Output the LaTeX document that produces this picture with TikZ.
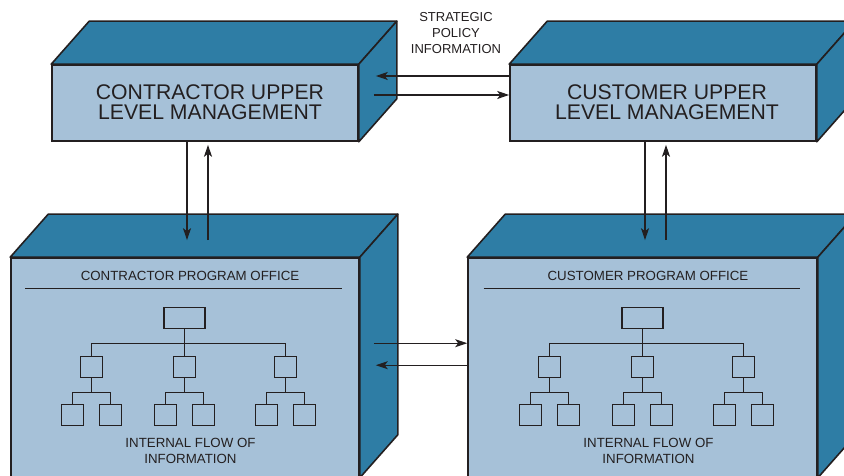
\documentclass[tikz,border=0pt]{standalone}
\usepackage{fontspec}
\setmainfont{Liberation Sans}
\usetikzlibrary{arrows.meta,calc}
\definecolor{facefront}{HTML}{A6C1D8}
\definecolor{faceside}{HTML}{2E7DA5}
\definecolor{inkline}{HTML}{231F20}

\tikzset{
  front/.style={draw=inkline, line width=1.6pt, fill=facefront, inner sep=0pt},
  sideface/.style={draw=inkline, line width=1.6pt, fill=faceside, line join=round},
  flow/.style={draw=inkline, line width=1.1pt, -{Stealth[length=12pt,width=8pt,inset=3pt]}},
  unit/.style={draw=inkline, line width=1.1pt, minimum width=22pt, minimum height=21pt, inner sep=0pt},
  tie/.style={draw=inkline, line width=1.1pt},
  bigtext/.style={text=inkline, font=\fontsize{21.2}{20.5}\selectfont, align=center},
  smalltext/.style={text=inkline, font=\fontsize{13.3}{16}\selectfont, align=center},
}

% top and right faces of a box, from its front node
\newcommand{\boxfaces}[1]{%
  \draw[sideface] (#1.north west) -- ++(38,43) -- ($(#1.north east)+(38,43)$)
    -- (#1.north east) -- cycle;
  \draw[sideface] (#1.north east) -- ++(38,43) -- ($(#1.south east)+(38,43)$)
    -- (#1.south east) -- cycle;
}

% organisation chart, #1 = name prefix, #2 = coordinate of the top box
\newcommand{\orgtree}[2]{%
  \node[unit, minimum width=41pt] (#1top) at (#2) {};
  \foreach \dx/\k in {-93/a, 0/b, 101/c} {
    \node[unit] (#1\k) at ($(#2)+(\dx,-49)$) {};
    \node[unit] (#1\k1) at ($(#1\k)+(-19,-48)$) {};
    \node[unit] (#1\k2) at ($(#1\k)+(19,-48)$) {};
    \draw[tie] (#1top.south) -- ++(0,-15) -| (#1\k.north);
    \draw[tie] (#1\k.south) -- ++(0,-15) -| (#1\k1.north);
    \draw[tie] (#1\k.south) -- ++(0,-15) -| (#1\k2.north);
  }
}

\begin{document}
\begin{tikzpicture}[x=1pt, y=1pt]
  \path[use as bounding box, clip] (0,0) rectangle (844,476);

  % Upper level management boxes
  \node[front, minimum width=306pt, minimum height=76pt] (cup) at (205,373) {};
  \boxfaces{cup}
  \node[bigtext] (cuptext) at ($(cup.center)+(5,1)$) {CONTRACTOR UPPER\\LEVEL MANAGEMENT};

  \node[front, minimum width=306pt, minimum height=76pt] (cum) at (663,373) {};
  \boxfaces{cum}
  \node[bigtext] (cumtext) at ($(cum.center)+(4,1)$) {CUSTOMER UPPER\\LEVEL MANAGEMENT};

  % Program office boxes, cut by the lower edge
  \node[front, minimum width=348pt, minimum height=219pt] (cpo) at (185,108.5) {};
  \boxfaces{cpo}
  \node[smalltext] (cpotitle) at ($(cpo.north)+(5,-19)$) {CONTRACTOR PROGRAM OFFICE};
  \draw[tie] ($(cpo.north)+(-160,-31)$) -- ($(cpo.north)+(157,-31)$);
  \coordinate (Lroot) at ($(cpo.north)+(-0.5,-60.5)$);
  \orgtree{L}{Lroot}
  \node[smalltext] (cpoflow) at ($(cpo.north)+(5.5,-194)$) {INTERNAL FLOW OF\\INFORMATION};

  \node[front, minimum width=349pt, minimum height=219pt] (cuo) at (642.5,108.5) {};
  \boxfaces{cuo}
  \node[smalltext] (cuotitle) at ($(cuo.north)+(5.5,-19)$) {CUSTOMER PROGRAM OFFICE};
  \draw[tie] ($(cuo.north)+(-159,-31)$) -- ($(cuo.north)+(157,-31)$);
  \coordinate (Rroot) at ($(cuo.north)+(0,-60.5)$);
  \orgtree{R}{Rroot}
  \node[smalltext] (cuoflow) at ($(cuo.north)+(6,-194)$) {INTERNAL FLOW OF\\INFORMATION};

  % Strategic policy information between the upper boxes
  \node[text=inkline, font=\fontsize{13}{16}\selectfont, align=center] (policy) at (456,443)
    {STRATEGIC\\POLICY\\INFORMATION};
  \coordinate (tipA) at ($(cup.east)+(17,27)$);
  \draw[flow] (cum.west |- tipA) -- (tipA);
  \coordinate (tailB) at ($(cup.east)+(15,8)$);
  \draw[flow] (tailB) -- (cum.west |- tailB);

  % Management <-> program office
  \draw[flow] ($(cup.south)+(-18,0)$) -- ($(cpo.north)+(2,17)$);
  \draw[flow] ($(cpo.north)+(23,17)$) -- ($(cup.south)+(3,-3)$);
  \draw[flow] ($(cum.south)+(-18,0)$) -- ($(cuo.north)+(2.5,17)$);
  \draw[flow] ($(cuo.north)+(23.5,17)$) -- ($(cum.south)+(3,-3)$);

  % Program office <-> program office
  \coordinate (tailC) at ($(cpo.north east)+(14,-86)$);
  \draw[flow] (tailC) -- (cuo.west |- tailC);
  \coordinate (tipD) at ($(cpo.north east)+(16,-108)$);
  \draw[flow] (cuo.west |- tipD) -- (tipD);
\end{tikzpicture}
\end{document}
